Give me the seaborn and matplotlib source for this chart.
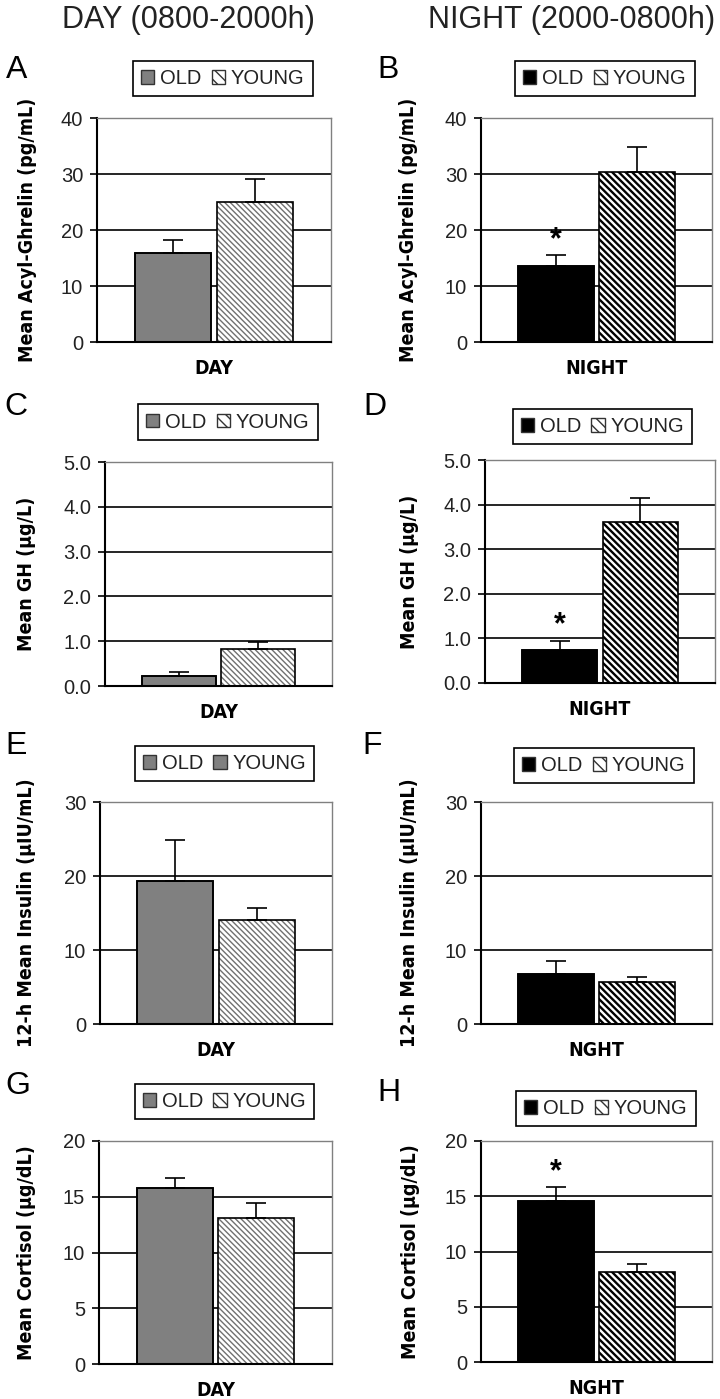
import numpy as np
import pandas as pd
import matplotlib
matplotlib.use("Agg")
import matplotlib.pyplot as plt
from matplotlib.patches import Patch, Rectangle
from matplotlib import font_manager
import seaborn as sns

# ---------------------------------------------------------------------------
# Data (means and upper SEM)
# ---------------------------------------------------------------------------
groups = ["OLD", "YOUNG"]

acyl_day = [15.9, 25.0]
acyl_day_err = [2.4, 4.1]
acyl_night = [13.6, 30.4]
acyl_night_err = [1.9, 4.5]

gh_day = [0.22, 0.82]
gh_day_err = [0.10, 0.17]
gh_night = [0.73, 3.62]
gh_night_err = [0.22, 0.52]

ins_day = [19.3, 14.05]
ins_day_err = [5.5, 1.65]
ins_night = [6.8, 5.7]
ins_night_err = [1.67, 0.67]

cort_day = [15.8, 13.1]
cort_day_err = [0.9, 1.35]
cort_night = [14.6, 8.1]
cort_night_err = [1.2, 0.74]

ylabels = {
    "acyl": "Mean Acyl-Ghrelin (pg/mL)",
    "gh": "Mean GH (µg/L)",
    "ins": "12-h Mean Insulin (µIU/mL)",
    "cort": "Mean Cortisol (µg/dL)",
}
yticks = {
    "acyl": ([0, 10, 20, 30, 40], "{:.0f}"),
    "gh": ([0, 1, 2, 3, 4, 5], "{:.1f}"),
    "ins": ([0, 10, 20, 30], "{:.0f}"),
    "cort": ([0, 5, 10, 15, 20], "{:.0f}"),
}
col_titles = ["DAY (0800-2000h)", "NIGHT (2000-0800h)"]

# (letter, measure, period label, means, errs, night?, significant?)
panels = [
    ("A", "acyl", "DAY", acyl_day, acyl_day_err, False, False),
    ("B", "acyl", "NIGHT", acyl_night, acyl_night_err, True, True),
    ("C", "gh", "DAY", gh_day, gh_day_err, False, False),
    ("D", "gh", "NIGHT", gh_night, gh_night_err, True, True),
    ("E", "ins", "DAY", ins_day, ins_day_err, False, False),
    ("F", "ins", "NGHT", ins_night, ins_night_err, True, False),
    ("G", "cort", "DAY", cort_day, cort_day_err, False, False),
    ("H", "cort", "NGHT", cort_night, cort_night_err, True, True),
]

# ---------------------------------------------------------------------------
# Layout (pixel boxes: left, right, top, bottom)
# ---------------------------------------------------------------------------
W, H = 720, 1399
boxes = {
    "A": (97, 331, 118, 342), "B": (481, 712, 118, 342),
    "C": (105, 332, 462, 686), "D": (485, 715, 460, 683),
    "E": (100, 332, 802, 1024), "F": (481, 712, 802, 1024),
    "G": (99, 332, 1141, 1364), "H": (481, 712, 1141, 1362),
}
legend_boxes = {
    "A": (134, 312, 59, 98), "B": (517, 693, 59, 98),
    "C": (140, 316, 402, 442), "D": (511, 694, 405, 448),
    "E": (136, 313, 744, 783), "F": (515, 693, 745, 786),
    "G": (136, 313, 1082, 1121), "H": (518, 694, 1088, 1129),
}
letter_pos = {
    "A": (6, 70), "B": (377, 70), "C": (4, 407), "D": (363, 407),
    "E": (5, 746), "F": (362, 746), "G": (5, 1086), "H": (377, 1093),
}
ylabel_x = {"A": 37, "C": 36, "E": 36, "G": 36,
            "B": 418, "D": 419, "F": 419, "H": 420}

sns.set_style("white")
plt.rcParams["font.family"] = ["Liberation Sans", "DejaVu Sans"]
plt.rcParams["hatch.linewidth"] = 1.0

fonts = font_manager.fontManager.ttflist
has_narrow = any(f.name == "Liberation Sans Narrow" for f in fonts)
has_cond = any(f.name == "DejaVu Sans" and f.stretch == "condensed" for f in fonts)
NARROW = ["Liberation Sans Narrow", "DejaVu Sans"]
lab_size = 14 if (has_narrow or has_cond) else 12.5
print("narrow:", has_narrow, "condensed:", has_cond)

fig = plt.figure(figsize=(W / 100, H / 100), dpi=100)
fig.patch.set_facecolor("white")

GRAY = "#808080"
TXT = "#222222"

for letter, measure, period, means, errs, night, sig in panels:
    l, r, t, b = boxes[letter]
    ax = fig.add_axes([l / W, 1 - b / H, (r - l) / W, (b - t) / H])

    df = pd.DataFrame({"period": [period] * 2, "group": groups, "value": means})
    old_col = "black" if night else GRAY
    plt.rcParams["hatch.linewidth"] = 1.7 if night else 1.0
    sns.barplot(data=df, x="period", y="value", hue="group", hue_order=groups,
                palette=[old_col, "white"], errorbar=None, gap=0.07,
                legend=False, ax=ax, zorder=2)

    hatch_col = "black" if night else "#707070"
    hatch = "\\" * 5 if night else "\\" * 6
    bars = ax.patches[:2]
    for i, p in enumerate(bars):
        if i == 1:
            p.set_facecolor("white")
            p.set_hatch(hatch)
            p.set_edgecolor(hatch_col)
            p.set_linewidth(0)
            if hasattr(p, "set_hatch_linewidth"):
                p.set_hatch_linewidth(1.7 if night else 1.0)
        else:
            p.set_edgecolor("black")
            p.set_linewidth(1.2)
        ax.add_patch(Rectangle(p.get_xy(), p.get_width(), p.get_height(),
                               fill=False, edgecolor="black", linewidth=1.2, zorder=3))
        xc = p.get_x() + p.get_width() / 2
        ax.errorbar(xc, p.get_height(), yerr=[[0], [errs[i]]], fmt="none",
                    ecolor="black", elinewidth=1.2, capsize=7, capthick=1.2, zorder=4)
        if i == 0 and sig:
            ax.text(xc, p.get_height() + errs[i], "*", ha="center", va="bottom",
                    fontsize=22, fontweight="bold", color="black", zorder=5)
    plt.rcParams["hatch.linewidth"] = 1.0

    ticks, fmt = yticks[measure]
    ax.set_ylim(ticks[0], ticks[-1])
    ax.set_xlim(-0.57, 0.57)
    ax.set_yticks(ticks)
    ax.set_yticklabels([fmt.format(v) for v in ticks], fontsize=14.5, color=TXT)
    ax.tick_params(axis="y", left=True, length=5, width=1.2, color="black", pad=5,
                   direction="out")
    ax.tick_params(axis="x", length=0, pad=12)
    for lab in ax.get_xticklabels():
        lab.set_fontfamily(NARROW)
        lab.set_fontstretch("condensed")
        lab.set_fontweight("bold")
        lab.set_fontsize(lab_size)
        lab.set_color("black")
    ax.set_xlabel("")

    for v in ticks[1:-1]:
        ax.axhline(v, color="black", linewidth=1.2, zorder=1)
    ax.spines["left"].set_color("black")
    ax.spines["left"].set_linewidth(1.5)
    ax.spines["bottom"].set_color("black")
    ax.spines["bottom"].set_linewidth(1.5)
    ax.spines["top"].set_color(GRAY)
    ax.spines["right"].set_color(GRAY)
    ax.spines["top"].set_linewidth(1)
    ax.spines["right"].set_linewidth(1)

    ax.set_ylabel(ylabels[measure], fontsize=lab_size, fontweight="bold",
                  fontfamily=NARROW, fontstretch="condensed", color="black")
    ax.yaxis.set_label_coords((ylabel_x[letter] - l) / (r - l), 0.5)

    # legend
    if letter == "E":
        young_handle = Patch(facecolor=GRAY, edgecolor="#333333")
    else:
        young_handle = Patch(facecolor="white", edgecolor="#333333", hatch="\\\\\\")
    handles = [Patch(facecolor=old_col, edgecolor="#333333"), young_handle]
    ll, lr, lt, lb = legend_boxes[letter]
    leg = fig.legend(handles, groups, ncol=2, loc="center",
                     bbox_to_anchor=((ll + lr) / 2 / W, 1 - (lt + lb) / 2 / H),
                     fontsize=14.5, frameon=True, fancybox=False, shadow=False,
                     handlelength=0.65, handleheight=0.65, handletextpad=0.3,
                     columnspacing=0.5, borderpad=0.4, framealpha=1)
    leg.get_frame().set_edgecolor("black")
    leg.get_frame().set_linewidth(1.2)
    for tx in leg.get_texts():
        tx.set_color(TXT)

    lx, ly = letter_pos[letter]
    fig.text(lx / W, 1 - ly / H, letter, fontsize=23, ha="left", va="center", color="black")

fig.text(188 / W, 1 - 20 / H, col_titles[0], fontsize=22, ha="center", va="center", color=TXT)
fig.text(572 / W, 1 - 20 / H, col_titles[1], fontsize=22, ha="center", va="center", color=TXT)

fig.savefig("out.png", dpi=100)
